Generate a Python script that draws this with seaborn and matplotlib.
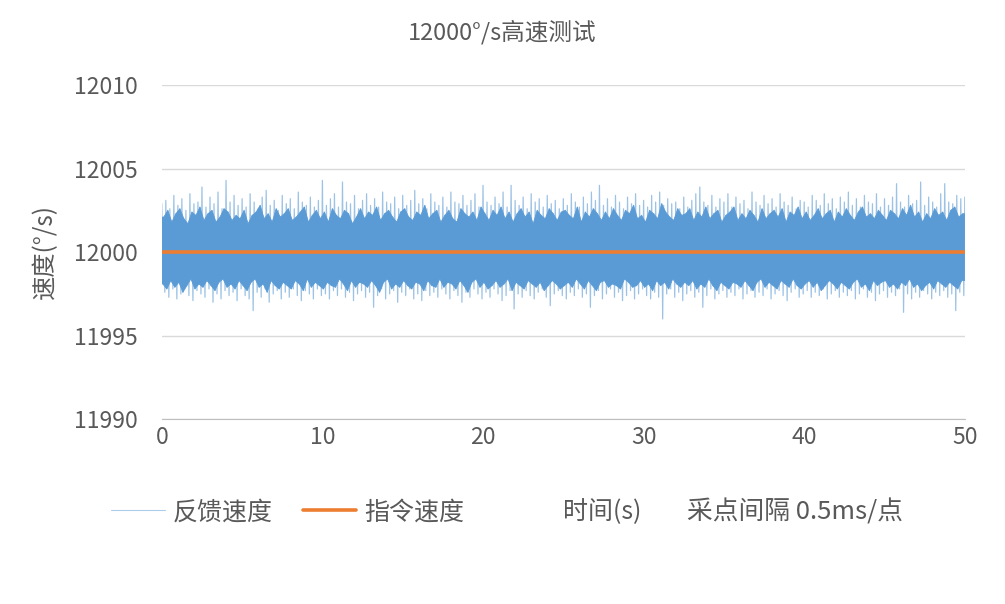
import numpy as np
import pandas as pd
import matplotlib
matplotlib.use("Agg")
import matplotlib.pyplot as plt
import seaborn as sns
from matplotlib.lines import Line2D
from matplotlib.ticker import MultipleLocator

# values (deg/s)
# outer peak tops of the feedback trace, one every 0.25 s from 0 to 50 s
upper_peak = [
    12002.9, 12003.1, 12002.6, 12003.4, 12002.8, 12003.2, 12002.5, 12003.5, 12002.9, 12003.0,
    12003.9, 12002.7, 12003.3, 12002.9, 12003.6, 12002.6, 12004.3, 12003.0, 12003.4, 12002.8,
    12003.2, 12002.7, 12003.5, 12003.0, 12002.6, 12003.3, 12003.7, 12002.8, 12003.1, 12002.5,
    12003.4, 12002.9, 12003.2, 12002.6, 12003.6, 12003.0, 12002.8, 12003.3, 12002.7, 12003.1,
    12004.3, 12002.8, 12003.2, 12003.5, 12002.7, 12004.2, 12003.0, 12002.9, 12003.4, 12002.6,
    12003.1, 12003.5, 12002.8, 12003.2, 12002.7, 12003.6, 12003.0, 12002.9, 12003.3, 12002.6,
    12003.4, 12002.8, 12003.1, 12003.7, 12002.9, 12003.2, 12002.6, 12003.5, 12003.0, 12002.8,
    12003.3, 12002.7, 12003.6, 12003.0, 12002.9, 12003.4, 12002.8, 12003.1, 12003.5, 12002.7,
    12004.0, 12003.0, 12002.8, 12003.3, 12002.9, 12003.6, 12002.7, 12004.0, 12003.1, 12002.8,
    12003.3, 12002.6, 12003.5, 12003.0, 12003.2, 12002.7, 12003.4, 12002.9, 12003.1, 12002.6,
    12003.2, 12002.8, 12003.5, 12003.0, 12002.7, 12003.3, 12002.9, 12003.6, 12003.1, 12004.0,
    12002.8, 12003.2, 12002.7, 12003.4, 12003.0, 12002.6, 12003.3, 12002.9, 12003.5, 12002.8,
    12003.1, 12002.7, 12003.4, 12003.0, 12003.6, 12002.8, 12003.2, 12002.9, 12003.0, 12002.6,
    12003.3, 12002.7, 12003.1, 12003.5, 12003.9, 12003.0, 12002.8, 12003.4, 12002.7, 12003.2,
    12003.0, 12003.5, 12002.7, 12003.3, 12002.9, 12003.1, 12002.6, 12003.6, 12003.0, 12002.8,
    12003.4, 12002.9, 12003.2, 12002.7, 12003.5, 12003.0, 12002.8, 12003.3, 12002.6, 12003.1,
    12003.0, 12002.7, 12003.4, 12003.1, 12002.8, 12003.5, 12002.9, 12003.2, 12002.6, 12003.3,
    12003.0, 12003.6, 12002.8, 12003.2, 12002.7, 12003.4, 12003.0, 12002.9, 12003.5, 12002.7,
    12003.2, 12002.8, 12003.3, 12004.1, 12003.0, 12002.7, 12003.4, 12002.9, 12003.1, 12004.2,
    12002.8, 12003.3, 12003.0, 12002.7, 12003.5, 12004.1, 12003.0, 12002.9, 12003.4, 12003.2,
    12003.3,
]
# outer troughs, one every 0.25 s from 0.1875 s
lower_peak = [
    11997.6, 11997.3, 11997.8, 11997.2, 11997.5, 11997.9, 11997.4, 11997.1, 11997.7, 11997.5,
    11997.3, 11997.8, 11997.0, 11997.5, 11997.2, 11997.7, 11997.4, 11997.6, 11997.1, 11997.8,
    11997.4, 11997.2, 11996.5, 11997.6, 11997.3, 11997.8, 11997.0, 11997.5, 11997.7, 11997.2,
    11997.6, 11997.3, 11997.8, 11997.4, 11997.1, 11997.7, 11997.5, 11997.2, 11997.8, 11997.4,
    11997.5, 11997.2, 11997.7, 11997.4, 11997.8, 11997.3, 11997.6, 11997.1, 11997.5, 11997.7,
    11997.3, 11997.6, 11996.7, 11997.4, 11997.8, 11997.2, 11997.5, 11997.7, 11997.0, 11997.6,
    11997.4, 11997.8, 11997.2, 11997.5, 11997.1, 11997.7, 11997.4, 11997.6, 11997.3, 11997.8,
    11997.5, 11997.2, 11997.7, 11997.4, 11997.0, 11997.6, 11997.3, 11997.8, 11997.5, 11997.2,
    11997.6, 11997.3, 11997.8, 11997.5, 11997.1, 11997.4, 11997.7, 11996.6, 11997.5, 11997.3,
    11997.7, 11997.4, 11997.2, 11997.6, 11997.8, 11997.3, 11996.8, 11997.5, 11997.7, 11997.4,
    11997.2, 11997.6, 11997.4, 11997.8, 11997.3, 11997.5, 11996.7, 11997.4, 11997.7, 11997.2,
    11997.5, 11997.8, 11997.3, 11997.6, 11997.1, 11997.4, 11997.7, 11997.2, 11997.5, 11997.8,
    11997.4, 11997.2, 11997.6, 11997.3, 11996.0, 11997.5, 11997.8, 11997.3, 11997.6, 11997.1,
    11997.5, 11997.7, 11997.3, 11997.6, 11996.7, 11997.4, 11997.8, 11997.2, 11997.5, 11997.7,
    11997.3, 11997.6, 11997.4, 11997.8, 11997.2, 11997.5, 11997.7, 11997.3, 11997.6, 11997.4,
    11997.8, 11997.2, 11997.5, 11997.7, 11997.4, 11997.1, 11997.6, 11997.8, 11997.3, 11997.5,
    11997.7, 11997.3, 11997.6, 11997.4, 11997.8, 11997.2, 11997.5, 11997.7, 11997.3, 11997.6,
    11997.4, 11997.7, 11997.2, 11997.5, 11997.8, 11997.3, 11997.6, 11997.1, 11997.5, 11997.7,
    11997.3, 11997.6, 11997.4, 11997.8, 11996.4, 11997.5, 11997.2, 11997.6, 11997.3, 11997.7,
    11997.5, 11997.2, 11997.6, 11997.4, 11997.7, 11997.3, 11997.5, 11996.5, 11997.6, 11997.4,
]
# shorter inner peaks (top of the solid band), one every 0.25 s from 0.125 s
inner_up = [
    12002.1, 12002.5, 12001.8, 12002.3, 12002.6, 12002.0, 12001.7, 12002.4, 12002.2, 12002.7,
    12001.9, 12002.3, 12002.5, 12001.8, 12002.1, 12002.6, 12002.4, 12001.9, 12002.2, 12002.0,
    12002.5, 12001.7, 12002.2, 12002.4, 12002.8, 12002.0, 12002.3, 12001.8, 12002.6, 12002.1,
    12002.3, 12002.6, 12001.9, 12002.1, 12002.4, 12002.7, 12001.8, 12002.2, 12002.5, 12002.0,
    12002.4, 12001.8, 12002.6, 12002.2, 12002.0, 12002.5, 12002.3, 12001.7, 12002.1, 12002.6,
    12002.0, 12002.4, 12002.2, 12002.7, 12001.9, 12002.3, 12002.5, 12002.1, 12001.8, 12002.4,
    12002.6, 12002.1, 12001.9, 12002.4, 12002.2, 12002.8, 12002.0, 12002.3, 12002.5, 12001.8,
    12002.2, 12002.5, 12002.0, 12001.8, 12002.6, 12002.3, 12002.1, 12002.4, 12001.9, 12002.7,
    12002.3, 12001.9, 12002.5, 12002.2, 12002.7, 12002.0, 12002.4, 12001.8, 12002.3, 12002.6,
    12002.1, 12002.4, 12001.7, 12002.5, 12002.2, 12002.0, 12002.6, 12002.3, 12001.9, 12002.4,
    12002.5, 12002.2, 12002.0, 12002.7, 12001.8, 12002.4, 12002.1, 12002.6, 12002.3, 12001.9,
    12002.4, 12002.0, 12002.6, 12002.2, 12001.9, 12002.5, 12002.3, 12002.8, 12002.0, 12002.2,
    12001.8, 12002.5, 12002.3, 12002.0, 12002.9, 12002.4, 12002.1, 12001.9, 12002.6, 12002.2,
    12002.3, 12002.6, 12001.9, 12002.4, 12002.1, 12002.7, 12002.0, 12002.3, 12002.5, 12001.8,
    12002.2, 12002.4, 12002.7, 12001.9, 12002.3, 12002.0, 12002.5, 12002.2, 12001.8, 12002.6,
    12002.0, 12002.3, 12002.5, 12002.1, 12002.6, 12001.8, 12002.4, 12002.2, 12002.7, 12002.0,
    12002.4, 12001.9, 12002.2, 12002.6, 12002.0, 12002.3, 12002.5, 12001.8, 12002.4, 12002.1,
    12002.6, 12002.2, 12001.9, 12002.4, 12002.7, 12002.1, 12002.3, 12002.0, 12002.5, 12002.2,
    12001.9, 12002.5, 12002.3, 12002.0, 12002.6, 12002.2, 12002.8, 12002.1, 12002.4, 12001.8,
    12002.3, 12002.0, 12002.6, 12002.2, 12002.4, 12001.9, 12002.5, 12002.7, 12002.1, 12002.3,
]
# shorter inner troughs (bottom of the solid band), one every 0.25 s from 0.0625 s
inner_low = [
    11998.1, 11997.8, 11998.3, 11997.9, 11998.2, 11997.6, 11998.0, 11998.4, 11997.8, 11998.1,
    11997.9, 11998.3, 11998.0, 11997.7, 11998.2, 11998.4, 11997.9, 11998.1, 11997.8, 11998.3,
    11998.0, 11997.7, 11998.2, 11998.4, 11997.9, 11998.1, 11997.6, 11998.3, 11998.0, 11997.8,
    11998.2, 11998.0, 11997.8, 11998.3, 11998.1, 11997.7, 11998.4, 11997.9, 11998.2, 11998.0,
    11997.8, 11998.2, 11998.0, 11997.9, 11998.4, 11998.1, 11997.7, 11998.3, 11997.9, 11998.2,
    11998.1, 11997.9, 11998.3, 11998.0, 11997.6, 11998.2, 11998.4, 11997.8, 11998.1, 11997.9,
    11998.3, 11998.0, 11997.8, 11998.2, 11998.1, 11997.7, 11998.3, 11998.0, 11997.9, 11998.4,
    11997.9, 11998.2, 11998.1, 11997.8, 11998.3, 11998.0, 11997.6, 11998.2, 11998.4, 11997.9,
    11998.2, 11997.8, 11998.0, 11998.3, 11997.9, 11998.1, 11998.4, 11997.7, 11998.2, 11998.0,
    11997.8, 11998.3, 11998.1, 11997.9, 11998.2, 11997.7, 11998.0, 11998.3, 11998.1, 11997.8,
    11998.0, 11998.2, 11997.9, 11998.4, 11998.1, 11997.8, 11998.3, 11998.0, 11997.7, 11998.2,
    11998.3, 11997.9, 11998.1, 11998.0, 11997.8, 11998.4, 11998.2, 11997.9, 11998.0, 11998.3,
    11997.9, 11998.1, 11997.7, 11998.3, 11998.0, 11998.2, 11997.8, 11998.4, 11998.1, 11997.9,
    11998.2, 11998.0, 11998.3, 11997.8, 11998.1, 11997.9, 11998.4, 11998.0, 11997.7, 11998.2,
    11998.0, 11997.8, 11998.2, 11998.1, 11997.9, 11998.3, 11998.0, 11997.7, 11998.2, 11998.4,
    11997.9, 11998.2, 11998.0, 11997.8, 11998.3, 11998.1, 11997.9, 11998.4, 11998.0, 11997.8,
    11998.1, 11998.3, 11997.9, 11998.2, 11997.7, 11998.0, 11998.3, 11998.1, 11997.8, 11998.2,
    11998.0, 11997.8, 11998.2, 11998.4, 11997.9, 11998.1, 11997.7, 11998.3, 11998.0, 11998.2,
    11998.3, 11997.9, 11998.1, 11997.8, 11998.2, 11998.0, 11998.4, 11997.9, 11998.1, 11997.7,
    11998.0, 11998.2, 11997.8, 11998.3, 11998.1, 11997.9, 11998.2, 11998.0, 11997.8, 11998.3,
]
cmd_time = [0, 50]
cmd_speed = [12000, 12000]

# sample grid: outer peak, inner trough, inner peak, outer trough, ...
t_up = np.linspace(0, 50, len(upper_peak))
t_in_low = t_up[:-1] + 0.0625
t_in_up = t_up[:-1] + 0.125
t_low = t_up[:-1] + 0.1875

fb = pd.DataFrame({"t": np.concatenate([t_up, t_in_low, t_in_up, t_low]),
                   "v": np.concatenate([upper_peak, inner_low, inner_up, lower_peak])})
fb = fb.sort_values("t").reset_index(drop=True)
cmd = pd.DataFrame({"t": cmd_time, "v": cmd_speed})

sns.set_style("white")
plt.rcParams["font.family"] = ["Noto Sans CJK SC", "DejaVu Sans"]
grey = "#595959"
blue = "#5B9BD5"
orange = "#ED7D31"

fig = plt.figure(figsize=(10.05, 6.04), dpi=100)
ax = fig.add_axes([0.161, 0.306, 0.799, 0.553])

# solid band: polygon through the inner peaks (top) and inner troughs (bottom)
band_x = np.concatenate([[0], t_in_up, [50], [50], t_in_low[::-1], [0]])
band_y = np.concatenate([[inner_up[0]], inner_up, [inner_up[-1]],
                         [inner_low[-1]], inner_low[::-1], [inner_low[0]]])
ax.fill(band_x, band_y, color=blue, lw=0.6, ec=blue, zorder=2)
sns.lineplot(data=fb, x="t", y="v", ax=ax, color=blue, lw=0.9, alpha=0.6,
             sort=False, estimator=None, zorder=3)
sns.lineplot(data=cmd, x="t", y="v", ax=ax, color=orange, lw=2.6, zorder=4)

ax.set_xlim(0, 50)
ax.set_ylim(11990, 12010)
ax.set_yticks([11990, 11995, 12000, 12005, 12010])
ax.xaxis.set_major_locator(MultipleLocator(5))
ax.set_xticklabels([str(int(v)) if v % 10 == 0 else "" for v in ax.get_xticks()])
ax.grid(axis="y", color="#D9D9D9", lw=1)
ax.set_axisbelow(True)
for s in ["top", "right", "left"]:
    ax.spines[s].set_visible(False)
ax.spines["bottom"].set_color("#BFBFBF")
ax.tick_params(axis="x", direction="in", length=8, color="#BFBFBF", labelsize=16.5,
               labelcolor=grey, pad=5)
ax.tick_params(axis="y", length=0, labelsize=16.5, labelcolor=grey, pad=17)
ax.set_xlabel("")
ax.set_ylabel("")

fig.text(0.5, 0.947, "12000°/s高速测试", ha="center", va="center", fontsize=17, color=grey)
fig.text(0.045, 0.583, "速度(°/s)", ha="center", va="center", rotation=90, fontsize=17.5,
         color=grey)

handles = [Line2D([], [], color=blue, lw=0.8, alpha=0.5),
           Line2D([], [], color=orange, lw=2.6)]
fig.legend(handles, ["反馈速度", "指令速度"], loc="center left",
           bbox_to_anchor=(0.088, 0.152), ncol=2, frameon=False, fontsize=18,
           labelcolor=grey, handlelength=2.15, handletextpad=0.32, columnspacing=1.2)
fig.text(0.56, 0.152, "时间(s)", ha="left", va="center", fontsize=18, color=grey)
fig.text(0.684, 0.152, "采点间隔 0.5ms/点", ha="left", va="center", fontsize=18.5, color=grey)

fig.savefig("out.png", dpi=100)
